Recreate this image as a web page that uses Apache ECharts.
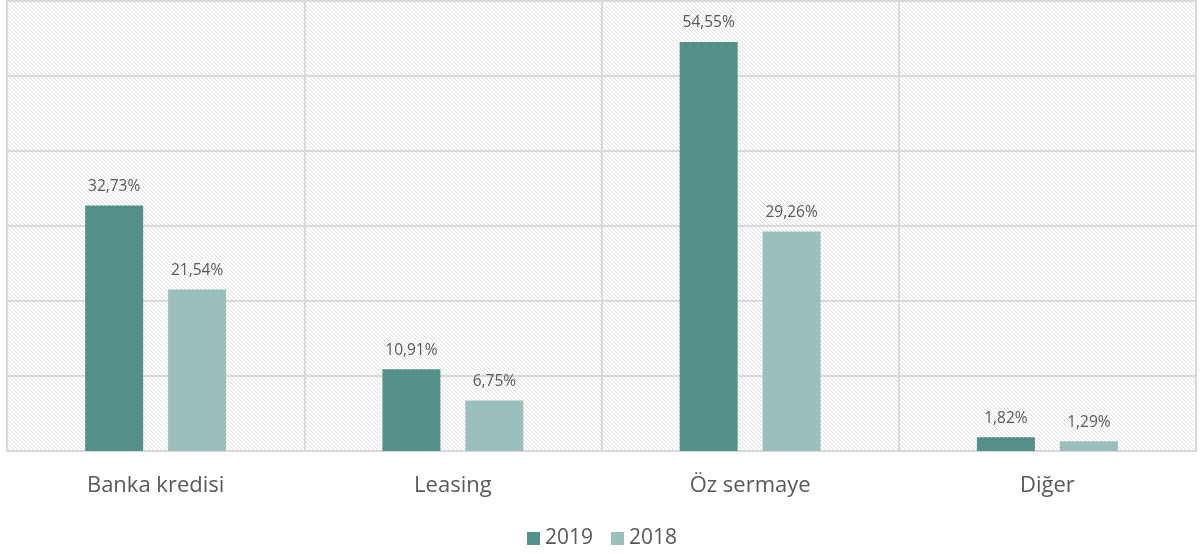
<!DOCTYPE html>
<html>
<head>
<meta charset="utf-8">
<script src="https://cdn.jsdelivr.net/npm/echarts@6/dist/echarts.min.js"></script>
<style>
  html, body { margin: 0; padding: 0; background: #fff; }
  #chart { width: 1204px; height: 554px; }
</style>
</head>
<body>
<div id="chart"></div>
<script>
const categories = ['Banka kredisi', 'Leasing', 'Öz sermaye', 'Diğer'];
const values2019 = [32.73, 10.91, 54.55, 1.82];
const values2018 = [21.54, 6.75, 29.26, 1.29];
const seriesNames = ['2019', '2018'];

const FONT = '"Open Sans", "Noto Sans", sans-serif';

// diagonal hatch used as plot background
function hatchPattern() {
  const c = document.createElement('canvas');
  c.width = 4;
  c.height = 4;
  const ctx = c.getContext('2d');
  ctx.fillStyle = '#ffffff';
  ctx.fillRect(0, 0, 4, 4);
  ctx.strokeStyle = '#e0e0e0';
  ctx.lineWidth = 1;
  ctx.beginPath();
  ctx.moveTo(-1, -1);
  ctx.lineTo(5, 5);
  ctx.moveTo(-1, 3);
  ctx.lineTo(1, 5);
  ctx.moveTo(3, -1);
  ctx.lineTo(5, 1);
  ctx.stroke();
  return c;
}

const chart = echarts.init(document.getElementById('chart'));

const pctLabel = {
  show: true,
  position: 'top',
  distance: 11,
  color: '#595959',
  fontFamily: FONT,
  fontSize: 15.5,
  formatter: (p) => p.value.toFixed(2).replace('.', ',') + '%'
};

chart.setOption({
  animation: false,
  grid: {
    show: true,
    left: 7,
    right: 8,
    top: 1,
    bottom: 103,
    borderColor: '#d9d9d9',
    borderWidth: 2,
    backgroundColor: { image: hatchPattern(), repeat: 'repeat' }
  },
  legend: {
    bottom: 0,
    left: 'center',
    itemWidth: 13,
    itemHeight: 13,
    itemGap: 18,
    icon: 'rect',
    textStyle: { color: '#595959', fontFamily: FONT, fontSize: 21 },
    data: seriesNames
  },
  xAxis: {
    type: 'category',
    data: categories,
    axisLine: { lineStyle: { color: '#d9d9d9', width: 2 } },
    axisTick: { show: false },
    splitLine: { show: true, lineStyle: { color: '#d9d9d9', width: 2 } },
    axisLabel: { color: '#595959', fontFamily: FONT, fontSize: 22, margin: 24 }
  },
  yAxis: {
    type: 'value',
    min: 0,
    max: 60,
    interval: 10,
    axisLabel: { show: false },
    axisLine: { show: false },
    axisTick: { show: false },
    splitLine: { lineStyle: { color: '#d9d9d9', width: 2 } }
  },
  series: [
    {
      name: seriesNames[0],
      type: 'bar',
      data: values2019,
      barWidth: 58,
      barGap: '43%',
      itemStyle: { color: '#548f89' },
      label: pctLabel
    },
    {
      name: seriesNames[1],
      type: 'bar',
      data: values2018,
      barWidth: 58,
      itemStyle: { color: '#9bbfbc' },
      label: pctLabel
    }
  ]
});
</script>
</body>
</html>
